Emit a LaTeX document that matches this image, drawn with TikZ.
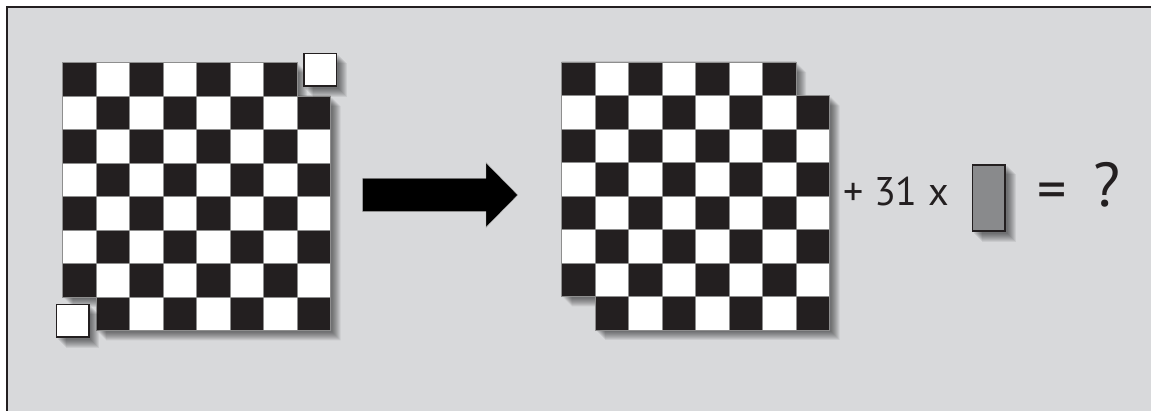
\documentclass[tikz,border=0pt]{standalone}
\usepackage{fontspec}
\setmainfont{PT Sans}
\usepackage{xcolor}
\usetikzlibrary{positioning}

\definecolor{bggray}{HTML}{D8D9DB}
\definecolor{inkblack}{HTML}{231F20}
\definecolor{tilegray}{HTML}{898A8C}
\definecolor{seamgray}{HTML}{8E8E8E}

\newcommand{\cellsz}{33.5}
% board outline with the two white corners cut away
\newcommand{\cutboard}{(0,0) -- (7*\cellsz,0) -- (7*\cellsz,\cellsz) -- (8*\cellsz,\cellsz) -- (8*\cellsz,8*\cellsz) -- (\cellsz,8*\cellsz) -- (\cellsz,7*\cellsz) -- (0,7*\cellsz) -- cycle}

\begin{document}
\begin{tikzpicture}[
  x=1pt, y=-1pt,
  dropsh/.style={fill=black, opacity=0.065},
  boardfill/.style={fill=inkblack, draw=seamgray, line width=0.6},
  cellw/.style={fill=white, draw=seamgray, line width=0.6},
  piece/.style={draw=inkblack, line width=1.5, fill=white, minimum size=32.5, inner sep=0},
  domino/.style={draw=inkblack, line width=1.5, fill=tilegray, minimum width=32.5, minimum height=66, inner sep=0},
  eqtext/.style={font=\fontsize{40}{48}\selectfont, text=inkblack, inner sep=0}
]
\useasboundingbox (0,0) rectangle (1151,411);
\clip (0,0) rectangle (1151,411);
% background panel, only its top and left edges fall inside the page
\fill[bggray] (7,7) rectangle (1180,430);
\draw[inkblack, line width=2] (7,430) -- (7,7) -- (1180,7);

% --- left: mutilated board with the two cut corners lifted off ---
\begin{scope}[shift={(62.5,62.5)}]
  \foreach \k in {2,...,10}{\fill[dropsh, shift={(\k,\k)}] \cutboard;}
  \fill[boardfill] \cutboard;
  \foreach \r in {0,...,7}
    \foreach \c in {0,...,7}{
      \pgfmathtruncatemacro\keep{(mod(\r+\c,2)==1)&&(abs(\r-\c)<7)}
      \ifnum\keep=1
        \fill[cellw] (\c*\cellsz,\r*\cellsz) rectangle ++(\cellsz,\cellsz);
      \fi
    }
\end{scope}
\foreach \k in {2,...,10}{
  \fill[dropsh] (303.3+\k,53.3+\k) rectangle ++(34,33.4);
  \fill[dropsh] (55.7+\k,304+\k) rectangle ++(33.6,33.7);
}
\node[piece] (topcut) at (320.3,70) {};
\node[piece] (botcut) at (72.5,320.8) {};

% --- arrow ---
\coordinate (arrtail) at (362.7,194.6);
\fill[black, draw=gray!60, line width=0.4] (arrtail) ++(0,-16.3) -- ++(123.3,0) -- ++(0,-15.6)
  -- ++(31.7,32.3) -- ++(-31.7,32.3) -- ++(0,-15.6) -- ++(-123.3,0) -- cycle;

% --- right: the same board, corners removed ---
\begin{scope}[shift={(561.7,62)}]
  \foreach \k in {2,...,10}{\fill[dropsh, shift={(\k,\k)}] \cutboard;}
  \fill[boardfill] \cutboard;
  \foreach \r in {0,...,7}
    \foreach \c in {0,...,7}{
      \pgfmathtruncatemacro\keep{(mod(\r+\c,2)==1)&&(abs(\r-\c)<7)}
      \ifnum\keep=1
        \fill[cellw] (\c*\cellsz,\r*\cellsz) rectangle ++(\cellsz,\cellsz);
      \fi
    }
\end{scope}

% --- the sum ---
\node[eqtext, anchor=base west] (sum) at (843,205.7) {+ 31 x};
\foreach \k in {2,...,10}{\fill[dropsh] (971.7+\k,164+\k) rectangle ++(34,67.7);}
\node[domino] (dom) at (988.7,197.8) {};
\node[eqtext, anchor=base, font=\fontsize{58}{66}\selectfont] (eq) at (1052,210) {=};
\node[eqtext, anchor=base, font=\fontsize{62}{70}\selectfont] (quest) at (1107,206.7) {?};
\end{tikzpicture}
\end{document}
